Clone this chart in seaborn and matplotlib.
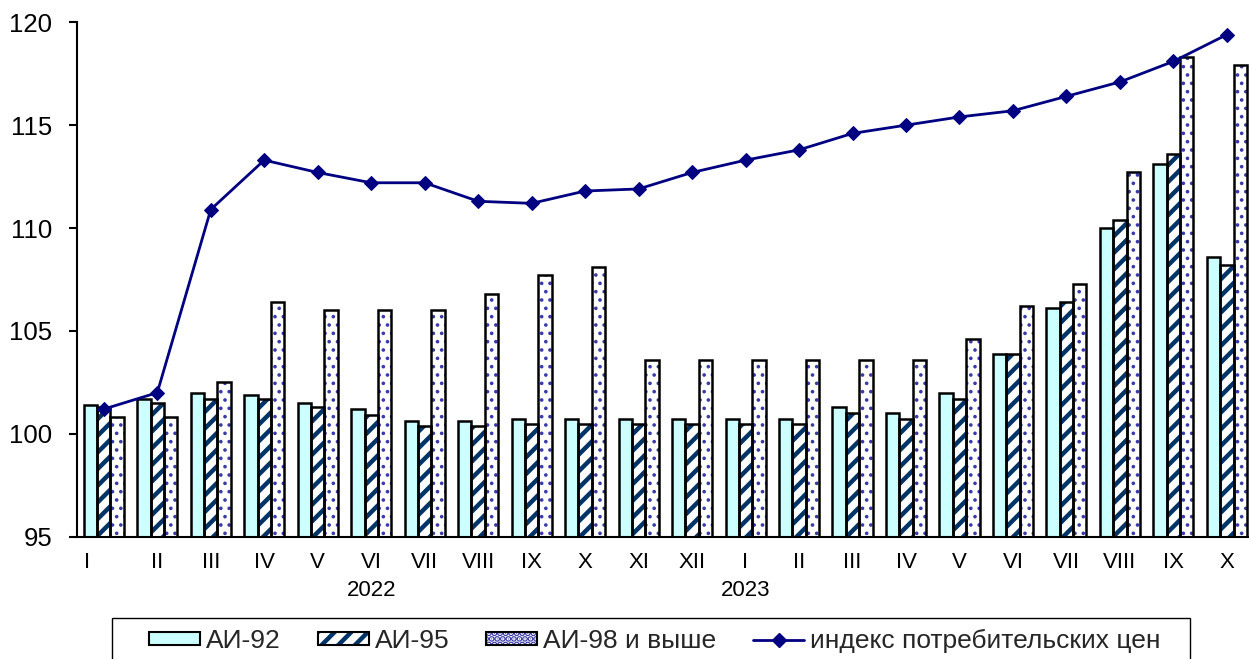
import numpy as np
import pandas as pd
import matplotlib
matplotlib.use("Agg")
import matplotlib.pyplot as plt
import seaborn as sns
from matplotlib.patches import Rectangle, Patch
from matplotlib.lines import Line2D
from matplotlib.legend_handler import HandlerTuple
import matplotlib.transforms as mtransforms

# ---------------- data ----------------
months = ["I", "II", "III", "IV", "V", "VI", "VII", "VIII", "IX", "X", "XI", "XII",
          "I", "II", "III", "IV", "V", "VI", "VII", "VIII", "IX", "X"]
years = ["2022"] * 12 + ["2023"] * 10
ai92 = [101.4, 101.7, 102.0, 101.9, 101.5, 101.2, 100.6, 100.6, 100.7, 100.7, 100.7, 100.7,
        100.7, 100.7, 101.3, 101.0, 102.0, 103.9, 106.1, 110.0, 113.1, 108.6]
ai95 = [101.3, 101.5, 101.7, 101.7, 101.3, 100.9, 100.4, 100.4, 100.5, 100.5, 100.5, 100.5,
        100.5, 100.5, 101.0, 100.7, 101.7, 103.9, 106.4, 110.4, 113.6, 108.2]
ai98 = [100.8, 100.8, 102.5, 106.4, 106.0, 106.0, 106.0, 106.8, 107.7, 108.1, 103.6, 103.6,
        103.6, 103.6, 103.6, 103.6, 104.6, 106.2, 107.3, 112.7, 118.3, 117.9]
cpi = [101.2, 102.0, 110.9, 113.3, 112.7, 112.2, 112.2, 111.3, 111.2, 111.8, 111.9, 112.7,
       113.3, 113.8, 114.6, 115.0, 115.4, 115.7, 116.4, 117.1, 118.1, 119.4]
fuels = ["АИ-92", "АИ-95", "АИ-98 и выше"]
cpi_label = "индекс потребительских цен"
year_labels = ["2022", "2023"]
year_label_pos = [5, 12]

# ---------------- style ----------------
sns.set_theme(style="white")
plt.rcParams["font.family"] = ["Liberation Sans", "DejaVu Sans"]
plt.rcParams["hatch.linewidth"] = 3.2

NAVY = "#000080"
STRIPE = "#003366"
DOT = "#3a3aa8"
CYAN = "#CCFFFF"

keys = [f"{y}-{m}" for y, m in zip(years, months)]
df = pd.DataFrame({
    "key": keys * 3,
    "fuel": [fuels[0]] * 22 + [fuels[1]] * 22 + [fuels[2]] * 22,
    "value": ai92 + ai95 + ai98,
})

W, H = 1249, 659
fig = plt.figure(figsize=(W / 100, H / 100), dpi=100)
ax = fig.add_axes([0.0617, 0.1856, 0.942, 0.7806])

sns.barplot(data=df, x="key", y="value", hue="fuel", order=keys, hue_order=fuels,
            palette=[CYAN, "white", "white"], width=0.75, gap=0, saturation=1,
            errorbar=None, legend=False, ax=ax)

for i, cont in enumerate(ax.containers):
    for bar in cont:
        if i == 0:
            bar.set_facecolor(CYAN)
            bar.set_linewidth(0)
        elif i == 1:
            bar.set_facecolor("white")
            bar.set_edgecolor(STRIPE)
            bar.set_hatch("//")
            bar.set_linewidth(0)
        else:
            bar.set_facecolor("white")
            bar.set_edgecolor(DOT)
            bar.set_hatch("..")
            bar.set_linewidth(0)
            try:
                bar.set_hatch_linewidth(1.4)
            except Exception:
                pass
        ax.add_patch(Rectangle(bar.get_xy(), bar.get_width(), bar.get_height(),
                               fill=False, edgecolor="black", linewidth=1.8,
                               zorder=bar.get_zorder() + 0.1))

sns.lineplot(x=np.arange(len(cpi)), y=cpi, color=NAVY, linewidth=2, marker="D",
             markersize=7.5, markeredgecolor=NAVY, ax=ax, zorder=10, legend=False)

# ---------------- axes ----------------
ax.set_xlim(-0.5, len(keys) - 0.5)
ax.set_ylim(95, 120)
ax.set_yticks(np.arange(95, 121, 5))
ax.set_xlabel("")
ax.set_ylabel("")
for s in ["top", "right"]:
    ax.spines[s].set_visible(False)
for s in ["left", "bottom"]:
    ax.spines[s].set_color("black")
    ax.spines[s].set_linewidth(1.5)

ax.set_xticks(np.arange(len(keys)))
ax.set_xticklabels(months)
ax.set_xticks(np.arange(-0.5, len(keys), 1), minor=True)
ax.tick_params(axis="x", which="major", length=0, pad=11, labelsize=16, colors="black")
ax.tick_params(axis="x", which="minor", length=5, width=1.5, direction="out", color="black")
ax.tick_params(axis="y", which="major", length=6, width=1.5, direction="out", pad=12,
               labelsize=18.5, colors="black", left=True)

# shift the first label left as in the reference
lab0 = ax.get_xticklabels()[0]
lab0.set_transform(lab0.get_transform() + mtransforms.ScaledTranslation(-17 / 100, 0, fig.dpi_scale_trans))

for lbl, pos in zip(year_labels, year_label_pos):
    ax.annotate(lbl, xy=(pos, 0), xycoords=("data", "axes fraction"),
                xytext=(0, -39), textcoords="offset points",
                ha="center", va="center", fontsize=16, color="black")

# ---------------- legend ----------------
h92 = Patch(facecolor=CYAN, edgecolor="black", linewidth=1.5)
h95 = (Patch(facecolor="white", edgecolor=STRIPE, hatch="//", linewidth=0),
       Patch(facecolor="none", edgecolor="black", linewidth=1.5))
h98 = (Patch(facecolor="white", edgecolor=DOT, hatch="...", linewidth=0),
       Patch(facecolor="none", edgecolor="black", linewidth=1.5))
hcpi = Line2D([], [], color=NAVY, linewidth=2, marker="D", markersize=7)
leg = fig.legend([h92, h95, h98, hcpi], fuels + [cpi_label],
                 handler_map={tuple: HandlerTuple(ndivide=1, pad=0)},
                 loc="upper left", bbox_to_anchor=(149 / W, 1 - 629 / H),
                 ncol=4, fontsize=19, frameon=False,
                 handlelength=1.93, handleheight=0.4,
                 handletextpad=0.23, columnspacing=1.4, borderpad=0,
                 borderaxespad=0)

# legend frame (extends past the bottom edge as in the reference)
fig.add_artist(Rectangle((112 / W, -0.02), (1190 - 112) / W, (H - 618) / H + 0.02,
                         transform=fig.transFigure, fill=False,
                         edgecolor="black", linewidth=1.0))

fig.savefig("out.png", dpi=100, facecolor="white")
